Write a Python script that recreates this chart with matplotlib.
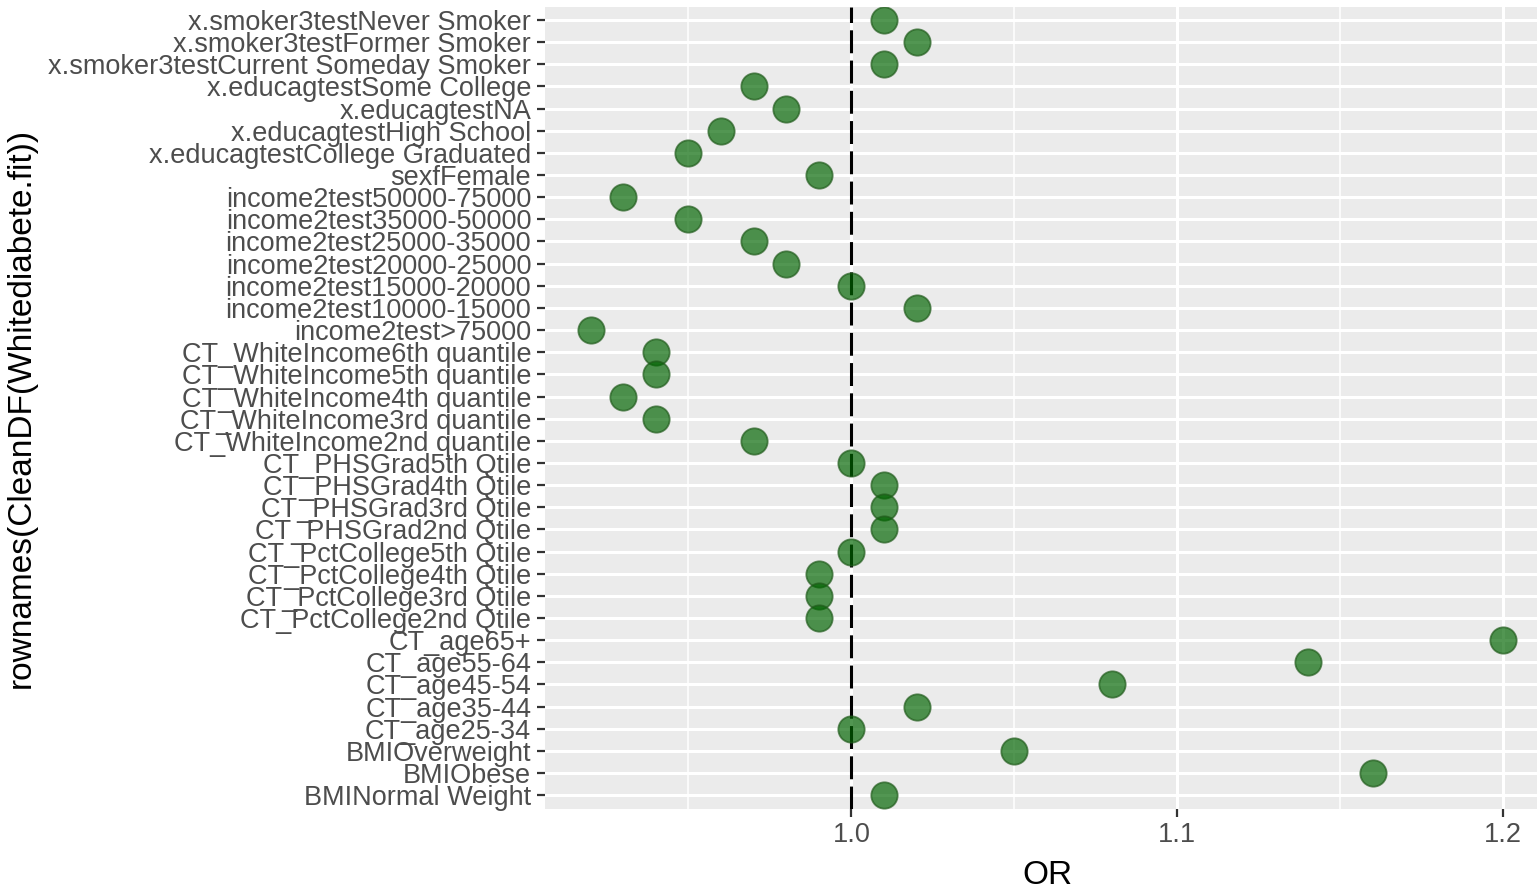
import matplotlib
matplotlib.use("Agg")
import matplotlib.pyplot as plt
from matplotlib.ticker import MultipleLocator

# Terms listed from top to bottom as shown in the chart
terms = [
    "x.smoker3testNever Smoker",
    "x.smoker3testFormer Smoker",
    "x.smoker3testCurrent Someday Smoker",
    "x.educagtestSome College",
    "x.educagtestNA",
    "x.educagtestHigh School",
    "x.educagtestCollege Graduated",
    "sexfFemale",
    "income2test50000-75000",
    "income2test35000-50000",
    "income2test25000-35000",
    "income2test20000-25000",
    "income2test15000-20000",
    "income2test10000-15000",
    "income2test>75000",
    "CT_WhiteIncome6th quantile",
    "CT_WhiteIncome5th quantile",
    "CT_WhiteIncome4th quantile",
    "CT_WhiteIncome3rd quantile",
    "CT_WhiteIncome2nd quantile",
    "CT_PHSGrad5th Qtile",
    "CT_PHSGrad4th Qtile",
    "CT_PHSGrad3rd Qtile",
    "CT_PHSGrad2nd Qtile",
    "CT_PctCollege5th Qtile",
    "CT_PctCollege4th Qtile",
    "CT_PctCollege3rd Qtile",
    "CT_PctCollege2nd Qtile",
    "CT_age65+",
    "CT_age55-64",
    "CT_age45-54",
    "CT_age35-44",
    "CT_age25-34",
    "BMIOverweight",
    "BMIObese",
    "BMINormal Weight",
]
odds_ratio = [
    1.01, 1.02, 1.01, 0.97, 0.98, 0.96, 0.95, 0.99,
    0.93, 0.95, 0.97, 0.98, 1.00, 1.02, 0.92,
    0.94, 0.94, 0.93, 0.94, 0.97,
    1.00, 1.01, 1.01, 1.01,
    1.00, 0.99, 0.99, 0.99,
    1.20, 1.14, 1.08, 1.02, 1.00,
    1.05, 1.16, 1.01,
]
x_ticks = [1.0, 1.1, 1.2]

plt.rcParams["font.family"] = ["Liberation Sans", "DejaVu Sans"]

fig = plt.figure(figsize=(15.37, 8.89), dpi=100)
# panel runs a little past the right edge, as in the original crop
ax = fig.add_axes([0.3546, 0.0905, 0.6532, 0.9020])
ax.set_facecolor("#EBEBEB")

# categorical y positions, top row first
ypos = list(range(len(terms) - 1, -1, -1))

ax.axvline(1.0, color="black", lw=2.2, linestyle=(0, (7.5, 2.4)), zorder=2)
ax.scatter(odds_ratio, ypos, s=360, color="#006400", alpha=0.68,
           edgecolor="#1f5a1a", linewidth=1.3, zorder=3)

lo, hi = min(odds_ratio), max(odds_ratio)
pad = (hi - lo) * 0.05
ax.set_xlim(lo - pad, hi + pad)
ax.set_ylim(-0.6, len(terms) - 0.4)

ax.set_xticks(x_ticks)
ax.set_xticklabels([f"{t:.1f}" for t in x_ticks])
ax.xaxis.set_minor_locator(MultipleLocator(0.05))
ax.set_yticks(ypos)
ax.set_yticklabels(terms)

ax.grid(which="major", color="white", lw=2.2)
ax.grid(which="minor", axis="x", color="white", lw=1.1)
ax.set_axisbelow(True)
for s in ax.spines.values():
    s.set_visible(False)

ax.tick_params(axis="both", which="major", length=5.5, width=1.6, color="#333333",
               labelcolor="#4D4D4D", labelsize=19.5, pad=4.5)
ax.tick_params(axis="x", which="minor", length=0)

ax.set_xlabel("OR", fontsize=24, color="black", labelpad=8)
ax.set_ylabel("rownames(CleanDF(Whitediabete.fit))", fontsize=24, color="black", labelpad=8)

fig.savefig("out.png", dpi=100)
